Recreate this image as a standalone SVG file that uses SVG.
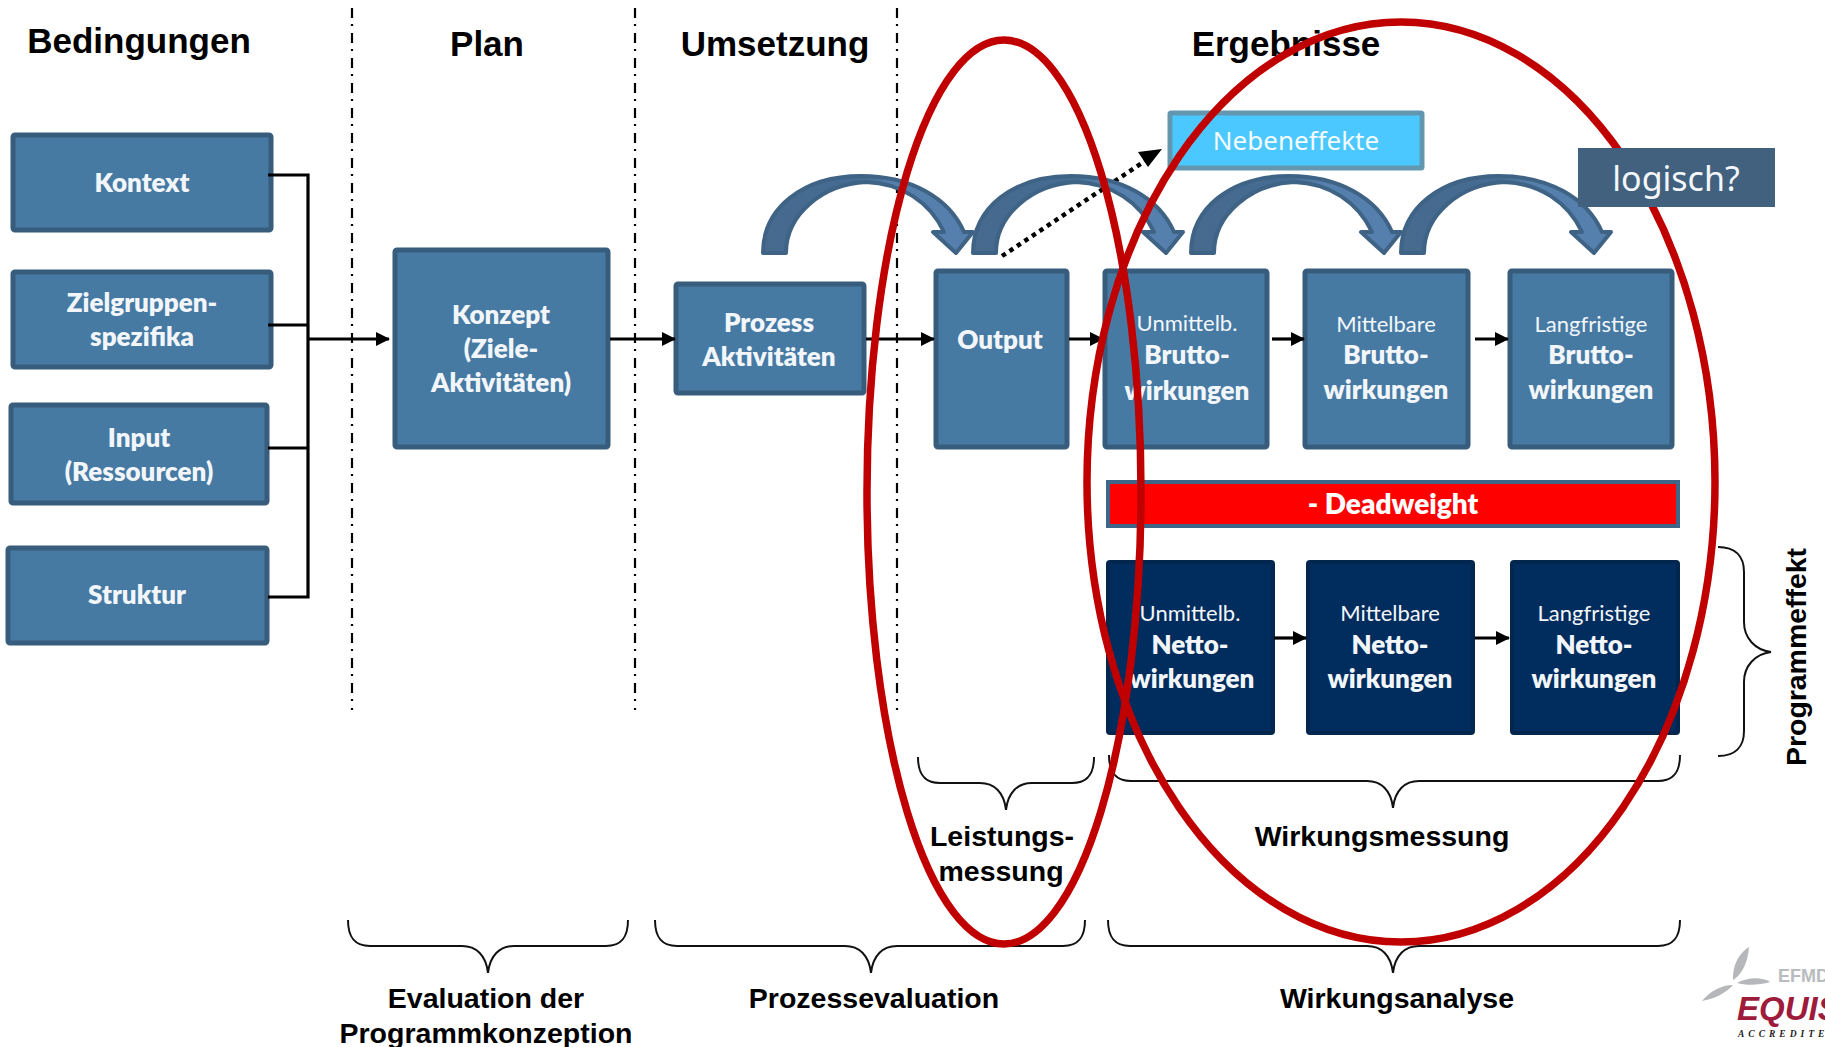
<svg xmlns="http://www.w3.org/2000/svg" width="1825" height="1047" viewBox="0 0 1825 1047">
<style>
.b{fill:#467AA3;stroke:#375C7C;stroke-width:5}
.n{fill:#002C5E;stroke:#02264E;stroke-width:4}
.t,.s{font-family:Lato,"Liberation Sans",sans-serif;fill:#F2F6FA;text-anchor:middle}
.t{font-size:26px;font-weight:800}
.s{font-size:22px;font-weight:400}
.h{font-family:"Liberation Sans",Arial,sans-serif;font-weight:700;font-size:28.500px;fill:#000;text-anchor:middle}
.hh{font-size:35px}
.c{fill:none;stroke:#000;stroke-width:3.200}
.a{marker-end:url(#ah)}
.v{fill:none;stroke:#000;stroke-width:2.200;stroke-dasharray:10 6 2 7}
.br{fill:none;stroke:#111;stroke-width:2}
.e{fill:none;stroke:#C00000;stroke-width:7.500}
.arc{fill:url(#ag);stroke:#3F6385;stroke-width:4;stroke-linejoin:round}
</style>
<defs>
<marker id="ah" viewBox="0 0 14 14" refX="13" refY="7" markerWidth="14" markerHeight="14" markerUnits="userSpaceOnUse" orient="auto"><path d="M0,0L14,7L0,14Z" fill="#000"/></marker>
<linearGradient id="ag" x1="0" y1="0" x2="1" y2="0"><stop offset="0" stop-color="#476A8E"/><stop offset="0.48" stop-color="#456C93"/><stop offset="0.62" stop-color="#5580AD"/><stop offset="1" stop-color="#5580AE"/></linearGradient>
<path id="arc" class="arc" d="M0,253C0,208 40,176 98,176C148,176 186,198 201,232L210,232L193,253L170,232L181,232C167,202 138,183 103,182C60,184 23,214 23,253Z"/>
</defs>
<rect width="1825" height="1047" fill="#fff"/>
<g id="dividers">
<path class="v" d="M352,8V710"/><path class="v" d="M635,8V710"/><path class="v" d="M897,8V710"/>
</g>
<g id="headers">
<text class="h hh" x="139" y="53">Bedingungen</text>
<text class="h hh" x="487" y="56">Plan</text>
<text class="h hh" x="775" y="56">Umsetzung</text>
<text class="h hh" x="1286" y="56">Ergebnisse</text>
</g>
<g id="node-kontext"><rect class="b" x="13" y="135" width="258" height="95" rx="2"/><text class="t" x="142" y="192">Kontext</text></g>
<g id="node-zielgruppen"><rect class="b" x="13" y="272" width="258" height="95" rx="2"/><text class="t" x="142" y="312">Zielgruppen-</text><text class="t" x="142" y="346">spezifika</text></g>
<g id="node-input"><rect class="b" x="11" y="405" width="256" height="98" rx="2"/><text class="t" x="139" y="447">Input</text><text class="t" x="139" y="481">(Ressourcen)</text></g>
<g id="node-struktur"><rect class="b" x="8" y="548" width="259" height="95" rx="2"/><text class="t" x="137" y="604">Struktur</text></g>
<g id="node-konzept"><rect class="b" x="395" y="250" width="213" height="197" rx="2"/><text class="t" x="501" y="324">Konzept</text><text class="t" x="501" y="358">(Ziele-</text><text class="t" x="501" y="392">Aktivitäten)</text></g>
<g id="node-prozess"><rect class="b" x="676" y="284" width="188" height="109" rx="2"/><text class="t" x="769" y="332">Prozess</text><text class="t" x="769" y="366">Aktivitäten</text></g>
<g id="node-output"><rect class="b" x="936" y="271" width="131" height="176" rx="2"/><text class="t" x="1000" y="349">Output</text></g>
<g id="node-brutto1"><rect class="b" x="1105" y="271" width="162" height="176" rx="2"/><text class="s" x="1187" y="331">Unmittelb.</text><text class="t" x="1187" y="364">Brutto-</text><text class="t" x="1187" y="400">wirkungen</text></g>
<g id="node-brutto2"><rect class="b" x="1305" y="271" width="163" height="176" rx="2"/><text class="s" x="1386" y="332">Mittelbare</text><text class="t" x="1386" y="364">Brutto-</text><text class="t" x="1386" y="399">wirkungen</text></g>
<g id="node-brutto3"><rect class="b" x="1510" y="271" width="162" height="176" rx="2"/><text class="s" x="1591" y="332">Langfristige</text><text class="t" x="1591" y="364">Brutto-</text><text class="t" x="1591" y="399">wirkungen</text></g>
<g id="node-deadweight"><rect x="1108" y="482" width="570" height="44" fill="#FF0000" stroke="#3F6688" stroke-width="4"/><text class="t" x="1393" y="514" style="fill:#fff;font-size:28px">- Deadweight</text></g>
<g id="node-netto1"><rect class="n" x="1108" y="562" width="165" height="171" rx="2"/><text class="s" x="1190" y="621">Unmittelb.</text><text class="t" x="1190" y="654">Netto-</text><text class="t" x="1192" y="688">wirkungen</text></g>
<g id="node-netto2"><rect class="n" x="1308" y="562" width="165" height="171" rx="2"/><text class="s" x="1390" y="621">Mittelbare</text><text class="t" x="1390" y="654">Netto-</text><text class="t" x="1390" y="688">wirkungen</text></g>
<g id="node-netto3"><rect class="n" x="1512" y="562" width="166" height="171" rx="2"/><text class="s" x="1594" y="621">Langfristige</text><text class="t" x="1594" y="654">Netto-</text><text class="t" x="1594" y="688">wirkungen</text></g>
<g id="node-nebeneffekte"><rect x="1170" y="113" width="252" height="55" fill="#4BC8FF" stroke="#6297AF" stroke-width="5" rx="1"/><text x="1296" y="150" text-anchor="middle" font-family="'Noto Sans',sans-serif" font-size="26" fill="#F4FBFF">Nebeneffekte</text></g>
<g id="connectors">
<path class="c" d="M268,175H308M268,325H308M268,448H308M268,597H308M308,173.400V598.600"/>
<path class="c a" d="M308,339H389"/>
<path class="c a" d="M610,339H675"/>
<path class="c a" d="M866,339H934"/>
<path class="c a" d="M1069,339H1103"/>
<path class="c a" d="M1272,339H1304"/>
<path class="c a" d="M1475,339H1508"/>
<path class="c a" d="M1274,638H1306"/>
<path class="c a" d="M1475,638H1509"/>
<path d="M1002,256L1148,159" fill="none" stroke="#000" stroke-width="4.500" stroke-dasharray="4.500 4.500"/>
<path d="M1162,149L1148,167L1138,152Z" fill="#000"/>
<use href="#arc" x="763"/>
<use href="#arc" x="973"/>
<use href="#arc" x="1191"/>
<use href="#arc" x="1401"/>
</g>
<g id="braces">
<path class="br" d="M918,757C918,775 925,783 940,783H980C994,783 1004,792 1006,810C1008,792 1018,783 1032,783H1072C1087,783 1094,775 1094,757"/>
<path class="br" d="M1109,755C1109,773 1116,781 1131,781H1367C1381,781 1391,790 1393,808C1395,790 1405,781 1419,781H1658C1673,781 1680,773 1680,755"/>
<path class="br" d="M348,920C348,938 355,946 370,946H462C476,946 486,955 488,973C490,955 500,946 514,946H606C621,946 628,938 628,920"/>
<path class="br" d="M655,920C655,938 662,946 677,946H845C859,946 869,955 871,973C873,955 883,946 897,946H1063C1078,946 1085,938 1085,920"/>
<path class="br" d="M1108,920C1108,938 1115,946 1130,946H1367C1381,946 1391,955 1393,973C1395,955 1405,946 1419,946H1658C1673,946 1680,938 1680,920"/>
<path class="br" d="M1718,547C1735,547 1744,556 1744,572V622C1744,638 1755,650 1771,652C1755,654 1744,666 1744,682V731C1744,747 1735,756 1718,756"/>
</g>
<g id="labels">
<text class="h" x="1002" y="846">Leistungs-</text>
<text class="h" x="1001" y="881">messung</text>
<text class="h" x="1382" y="846">Wirkungsmessung</text>
<text class="h" x="486" y="1008">Evaluation der</text>
<text class="h" x="486" y="1043">Programmkonzeption</text>
<text class="h" x="874" y="1008">Prozessevaluation</text>
<text class="h" x="1397" y="1008">Wirkungsanalyse</text>
<text class="h" transform="translate(1806,657) rotate(-90)" textLength="218" lengthAdjust="spacingAndGlyphs" style="font-size:27px">Programmeffekt</text>
</g>
<g id="ellipses">
<ellipse class="e" cx="1004" cy="492" rx="137" ry="452"/>
<ellipse class="e" cx="1401" cy="482" rx="314" ry="460"/>
</g>
<g id="node-logisch"><rect x="1578" y="148" width="197" height="59" fill="#41617F"/><text x="1676" y="191" text-anchor="middle" font-family="'Noto Sans',sans-serif" font-size="34" fill="#F4F7FA">logisch?</text></g>
<g id="logo">
<path d="M1733,980C1732,965 1740,952 1749,947C1748,962 1742,975 1733,980Z" fill="#B5B7BA"/>
<path d="M1737,983C1748,977 1762,977 1770,982C1760,985 1747,986 1737,983Z" fill="#B5B7BA"/>
<path d="M1702,1001C1710,991 1722,985 1733,985C1725,994 1713,999 1702,1001Z" fill="#B5B7BA"/>
<text x="1778" y="982" font-family="'Liberation Sans',sans-serif" font-weight="700" font-size="18" fill="#B9BBBE">EFMD</text>
<text x="1737" y="1020" font-family="'Liberation Sans',sans-serif" font-weight="700" font-style="italic" font-size="33" fill="#9E1B3C">EQUIS</text>
<text x="1738" y="1037" font-family="'Liberation Serif',serif" font-weight="700" font-style="italic" font-size="9.500" letter-spacing="4" fill="#222">ACCREDITED</text>
</g>
</svg>
